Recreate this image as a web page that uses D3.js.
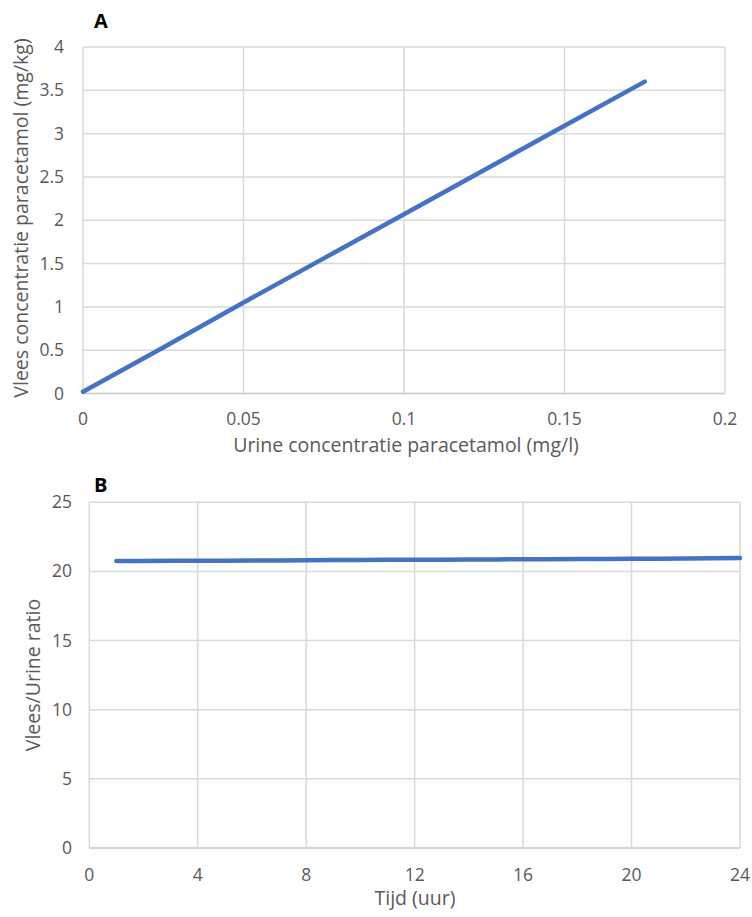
<!DOCTYPE html>
<html><head><meta charset="utf-8">
<script src="https://cdn.jsdelivr.net/npm/d3@7"></script>
<style>body{margin:0;background:#fff;} svg{display:block;font-family:"Open Sans",sans-serif;}</style>
</head><body><svg id="c" width="752" height="917"></svg>
<script>
// Panel A data
const urineConc = [0, 0.025, 0.05, 0.075, 0.1, 0.125, 0.15, 0.175];
const vleesConc = [0.02, 0.53, 1.05, 1.56, 2.07, 2.58, 3.09, 3.6];
const xTicksA = [0, 0.05, 0.1, 0.15, 0.2];
const yTicksA = [0, 0.5, 1, 1.5, 2, 2.5, 3, 3.5, 4];
// Panel B data
const tijd = [1,2,3,4,5,6,7,8,9,10,11,12,13,14,15,16,17,18,19,20,21,22,23,24];
const ratio = [20.75,20.76,20.77,20.78,20.78,20.79,20.80,20.81,20.82,20.83,20.84,20.84,20.85,20.86,20.87,20.88,20.89,20.90,20.90,20.91,20.92,20.93,20.95,20.97];
const xTicksB = [0, 4, 8, 12, 16, 20, 24];
const yTicksB = [0, 5, 10, 15, 20, 25];

const svg = d3.select("#c");
const gridCol = "#d9d9d9", textCol = "#595959", lineCol = "#4472C4";
const titleFs = 19.5;

function panel(o) {
  const x = d3.scaleLinear().domain(o.xd).range([o.l, o.r]);
  const y = d3.scaleLinear().domain(o.yd).range([o.b, o.t]);
  const g = svg.append("g");
  g.selectAll(".vg").data(o.xt).join("line")
    .attr("x1", d => x(d)).attr("x2", d => x(d)).attr("y1", o.t).attr("y2", o.b)
    .attr("stroke", gridCol).attr("stroke-width", 1.5);
  g.selectAll(".hg").data(o.yt).join("line")
    .attr("y1", d => y(d)).attr("y2", d => y(d)).attr("x1", o.l).attr("x2", o.r)
    .attr("stroke", gridCol).attr("stroke-width", 1.5);
  g.append("line").attr("x1", o.l).attr("x2", o.r).attr("y1", o.b).attr("y2", o.b)
    .attr("stroke", "#cfcfcf").attr("stroke-width", 1.5);
  g.selectAll(".xt").data(o.xt).join("text")
    .attr("x", d => x(d)).attr("y", o.xtb).attr("text-anchor", "middle")
    .attr("font-size", 17.5).attr("fill", textCol).text(o.xf);
  g.selectAll(".yt").data(o.yt).join("text")
    .attr("x", o.ytx).attr("y", d => y(d) + 6).attr("text-anchor", "end")
    .attr("font-size", 17.5).attr("fill", textCol).text(o.yf);
  g.append("text").attr("x", o.xlx).attr("y", o.xlb).attr("text-anchor", "middle")
    .attr("font-size", titleFs).attr("fill", textCol).text(o.xl);
  g.append("text").attr("transform", `translate(${o.ylx},${o.yly}) rotate(-90)`)
    .attr("text-anchor", "middle").attr("font-size", titleFs).attr("fill", textCol).text(o.yl);
  g.append("text").attr("x", 94).attr("y", o.tb).attr("font-size", 20)
    .attr("font-weight", "bold").attr("fill", "#000").text(o.title);
  const line = d3.line().x((d, i) => x(o.xs[i])).y(d => y(d));
  g.append("path").datum(o.ys).attr("d", line).attr("fill", "none")
    .attr("stroke", lineCol).attr("stroke-width", 4.5).attr("stroke-linecap", "round");
}

panel({l: 83, r: 725, t: 47, b: 393.5, xd: [0, 0.2], yd: [0, 4], xt: xTicksA, yt: yTicksA,
  xf: d => String(d), yf: d => String(d), xs: urineConc, ys: vleesConc,
  xl: "Urine concentratie paracetamol (mg/l)", yl: "Vlees concentratie paracetamol (mg/kg)",
  xtb: 425, ytx: 64, xlx: 406, xlb: 452, ylx: 28, yly: 218,
  tb: 28, title: "A"});
panel({l: 89.3, r: 740, t: 502.3, b: 848, xd: [0, 24], yd: [0, 25], xt: xTicksB, yt: yTicksB,
  xf: d => String(d), yf: d => String(d), xs: tijd, ys: ratio,
  xl: "Tijd (uur)", yl: "Vlees/Urine ratio",
  xtb: 881, ytx: 72, xlx: 415, xlb: 905, ylx: 40, yly: 675,
  tb: 492, title: "B"});
</script></body></html>
